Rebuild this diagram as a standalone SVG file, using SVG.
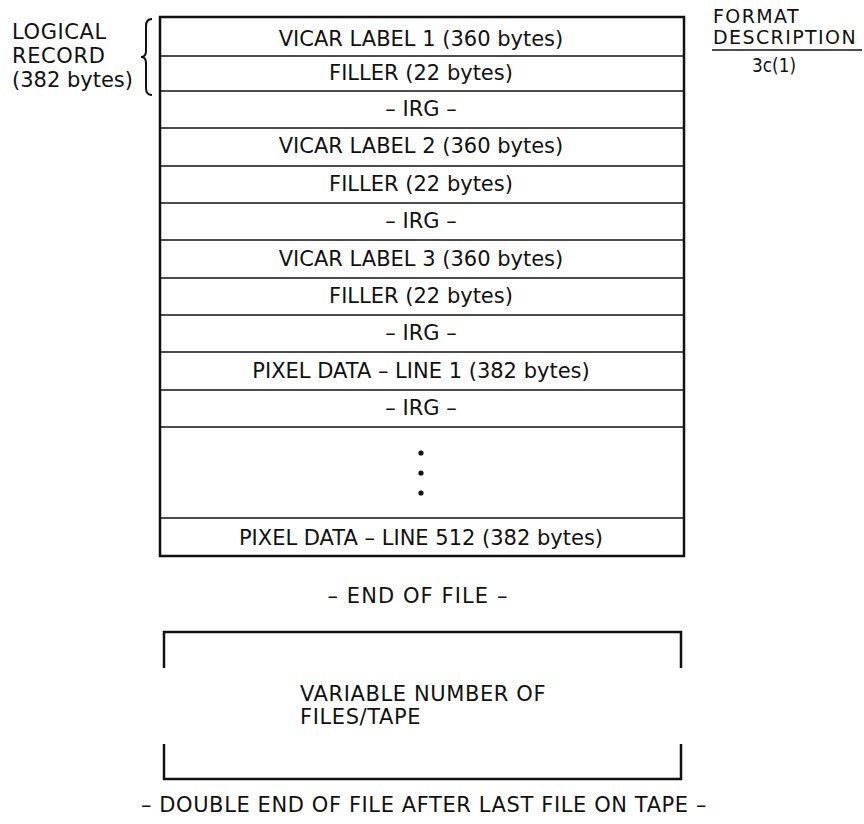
<svg xmlns="http://www.w3.org/2000/svg" width="864" height="824" viewBox="0 0 864 824">
<style>
text{font-family:"DejaVu Sans","Liberation Sans",sans-serif;font-size:21px;fill:#111}
.c{text-anchor:middle}
.ls{letter-spacing:0.6px}
.fd{font-size:19px;letter-spacing:1.4px}
.outer{fill:none;stroke:#111;stroke-width:2.5}
.div{stroke:#111;stroke-width:1.5}
.br{fill:none;stroke:#111;stroke-width:2}
</style>
<rect width="864" height="824" fill="#fff"/>
<g id="logical-record-label">
<text x="12" y="39" class="ls">LOGICAL</text>
<text x="12" y="63" class="ls">RECORD</text>
<text x="12" y="87">(382 bytes)</text>
<path class="br" d="M152 19 Q146 19 146 26 L146 51 Q146 57 141 57 Q146 57 146 63 L146 88 Q146 95 152 95"/>
</g>
<g id="format-description">
<text x="713" y="23" class="fd">FORMAT</text>
<text x="713" y="44" class="fd">DESCRIPTION</text>
<line x1="712" y1="50" x2="862" y2="50" class="div"/>
<text x="752" y="72" style="font-size:20px" textLength="44" lengthAdjust="spacingAndGlyphs">3c(1)</text>
</g>
<g id="record-table">
<rect class="outer" x="160" y="17" width="524" height="539"/>
<g id="dividers">
<line class="div" x1="160" y1="56" x2="684" y2="56"/>
<line class="div" x1="160" y1="91" x2="684" y2="91"/>
<line class="div" x1="160" y1="128" x2="684" y2="128"/>
<line class="div" x1="160" y1="166" x2="684" y2="166"/>
<line class="div" x1="160" y1="203" x2="684" y2="203"/>
<line class="div" x1="160" y1="240" x2="684" y2="240"/>
<line class="div" x1="160" y1="278" x2="684" y2="278"/>
<line class="div" x1="160" y1="315" x2="684" y2="315"/>
<line class="div" x1="160" y1="352" x2="684" y2="352"/>
<line class="div" x1="160" y1="390" x2="684" y2="390"/>
<line class="div" x1="160" y1="427" x2="684" y2="427"/>
<line class="div" x1="160" y1="518" x2="684" y2="518"/>
</g>
<g id="row-vicar1"><text class="c" x="421" y="46">VICAR LABEL 1 (360 bytes)</text></g>
<g id="row-filler1"><text class="c" x="421" y="80">FILLER (22 bytes)</text></g>
<g id="row-irg1"><text class="c" x="421" y="116">– IRG –</text></g>
<g id="row-vicar2"><text class="c" x="421" y="153">VICAR LABEL 2 (360 bytes)</text></g>
<g id="row-filler2"><text class="c" x="421" y="191">FILLER (22 bytes)</text></g>
<g id="row-irg2"><text class="c" x="421" y="228">– IRG –</text></g>
<g id="row-vicar3"><text class="c" x="421" y="266">VICAR LABEL 3 (360 bytes)</text></g>
<g id="row-filler3"><text class="c" x="421" y="303">FILLER (22 bytes)</text></g>
<g id="row-irg3"><text class="c" x="421" y="340">– IRG –</text></g>
<g id="row-pixel1"><text class="c" x="421" y="378">PIXEL DATA – LINE 1 (382 bytes)</text></g>
<g id="row-irg4"><text class="c" x="421" y="415">– IRG –</text></g>
<g id="row-ellipsis">
<circle cx="421" cy="453" r="2.6" fill="#111"/>
<circle cx="421" cy="473" r="2.6" fill="#111"/>
<circle cx="421" cy="493" r="2.6" fill="#111"/>
</g>
<g id="row-pixel512"><text class="c" x="421" y="545">PIXEL DATA – LINE 512 (382 bytes)</text></g>
</g>
<g id="end-of-file"><text class="c" x="418" y="603" style="letter-spacing:1.1px">– END OF FILE –</text></g>
<g id="variable-files">
<path class="outer" d="M164 668 L164 632 L681 632 L681 668"/>
<path class="outer" d="M164 744 L164 779 L681 779 L681 744"/>
<text x="300" y="701" class="ls">VARIABLE NUMBER OF</text>
<text x="300" y="724" class="ls">FILES/TAPE</text>
</g>
<g id="double-eof"><text class="c ls" x="424" y="812">– DOUBLE END OF FILE AFTER LAST FILE ON TAPE –</text></g>
<g id="connectors"/>
</svg>
